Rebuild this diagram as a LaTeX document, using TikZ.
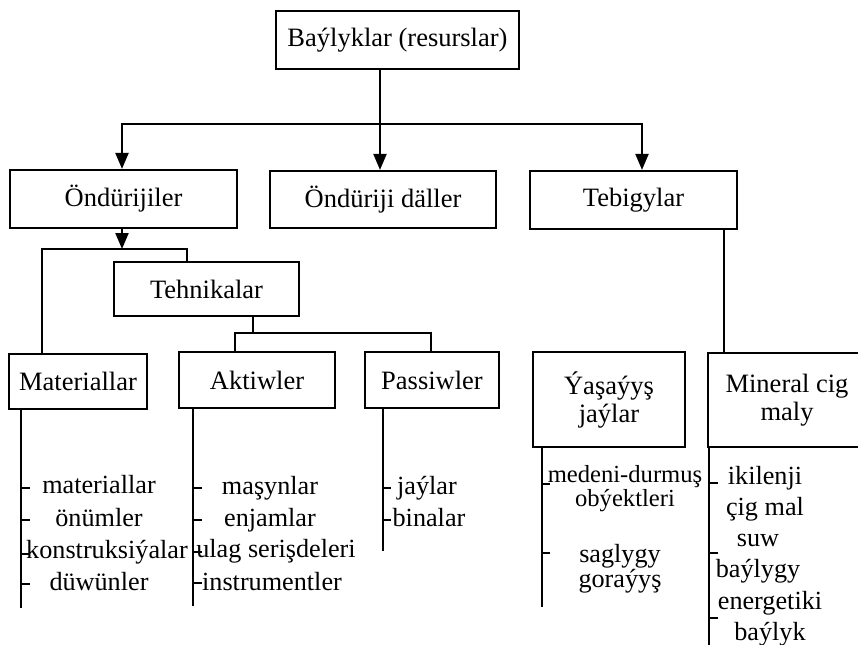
\documentclass[tikz,border=0pt]{standalone}
\usepackage{fontspec}
\setmainfont{Liberation Serif}
\usetikzlibrary{arrows.meta}

\begin{document}
\begin{tikzpicture}[x=0.5pt,y=-0.5pt,
  box/.style={draw,line width=1.1pt,inner sep=0pt,align=center,font=\fontsize{13.25}{14}\selectfont},
  item/.style={inner sep=0pt,align=center,anchor=base,font=\fontsize{13.1}{15.5}\selectfont},
  conn/.style={line width=1.1pt},
  arr/.style={line width=1.1pt,-{Triangle[width=6.5pt,length=8pt]}}]
\useasboundingbox (0,0) rectangle (858,644);
% boxes
\node[box,minimum width=121.5pt,minimum height=29pt] (res) at (397.5,40) {Baýlyklar (resurslar)};
\node[box,minimum width=113.5pt,minimum height=29pt] (ond) at (123.5,199) {Öndürijiler};
\node[box,minimum width=113pt,minimum height=28.5pt] (dal) at (383,199.5) {Öndüriji däller};
\node[box,minimum width=103.5pt,minimum height=29pt] (teb) at (633.5,200) {Tebigylar};
\node[box,minimum width=92.5pt,minimum height=27pt] (teh) at (206.5,289) {Tehnikalar};
\node[box,minimum width=69pt,minimum height=27.5pt] (mat) at (78,381.5) {Materiallar};
\node[box,minimum width=78pt,minimum height=28pt] (akt) at (257,380) {Aktiwler};
\node[box,minimum width=67pt,minimum height=28pt] (pas) at (432,380) {Passiwler};
\node[box,minimum width=76pt,minimum height=47.5pt] (yas) at (609,399.5) {Ýaşaýyş\\jaýlar};
\node[box,minimum width=79pt,minimum height=47pt] (min) at (787,400) {Mineral cig\\maly};
% connectors
\coordinate (hub) at (380,124);
\coordinate (fork) at (122,249);
\coordinate (tfork) at (253,333);
\draw[arr] (hub |- res.south) -- (hub |- dal.north);
\draw[arr] (hub) -| ([xshift=-0.75pt]ond.north);
\draw[arr] (hub) -| ([xshift=4.25pt]teb.north);
\draw[arr] ([xshift=-0.75pt]ond.south) -- (fork);
\draw[conn] ([xshift=-18pt]mat.north) |- (fork) -| ([xshift=-9.75pt]teh.north);
\draw[conn] (teh.south -| tfork) -- (tfork);
\draw[conn] ([xshift=-11pt]akt.north) |- (tfork) -| ([xshift=-0.5pt]pas.north);
\draw[conn] ([xshift=45.25pt]teb.south) -- ([xshift=45.25pt]teb.south |- min.north);
% lists
\coordinate (matend) at (21,608);
\coordinate (aktend) at (193,606);
\coordinate (pasend) at (383,551);
\coordinate (yasend) at (542,607);
\coordinate (minend) at (709,660);
\draw[conn] (matend |- mat.south) -- (matend);
\draw[conn] (aktend |- akt.south) -- (aktend);
\draw[conn] (pasend |- pas.south) -- (pasend);
\draw[conn] (yasend |- yas.south) -- (yasend);
\draw[conn] (minend |- min.south) -- (minend);
\foreach \y in {488,520,554,584} \draw[conn] (21,\y) -- (30,\y);
\foreach \y in {488,520,552,583} \draw[conn] (193,\y) -- (202,\y);
\foreach \y in {488,520} \draw[conn] (383,\y) -- (391,\y);
\foreach \y in {484,553} \draw[conn] (542,\y) -- (550,\y);
\foreach \y in {483,553,618} \draw[conn] (709,\y) -- (718,\y);
\node[item] (m1) at (99,493) {materiallar};
\node[item] (m2) at (99,526) {önümler};
\node[item] (m3) at (107,558) {konstruksiýalar};
\node[item] (m4) at (99,590) {düwünler};
\node[item] (a1) at (270,494) {maşynlar};
\node[item] (a2) at (270,526) {enjamlar};
\node[item] (a3) at (276,557) {ulag serişdeleri};
\node[item] (a4) at (272,590) {instrumentler};
\node[item] (p1) at (427,494) {jaýlar};
\node[item] (p2) at (429,526) {binalar};
\node[item,font=\fontsize{12.3}{11.8}\selectfont] (y1) at (625,506) {medeni-durmuş\\obýektleri};
\node[item,font=\fontsize{13.1}{12.5}\selectfont] (y2) at (620,587) {saglygy\\goraýyş};
\node[item] (n1) at (765,515) {ikilenji\\çig mal};
\node[item] (n2) at (758,577) {suw\\baýlygy};
\node[item] (n3) at (770,640) {energetiki\\baýlyk};
\end{tikzpicture}
\end{document}
